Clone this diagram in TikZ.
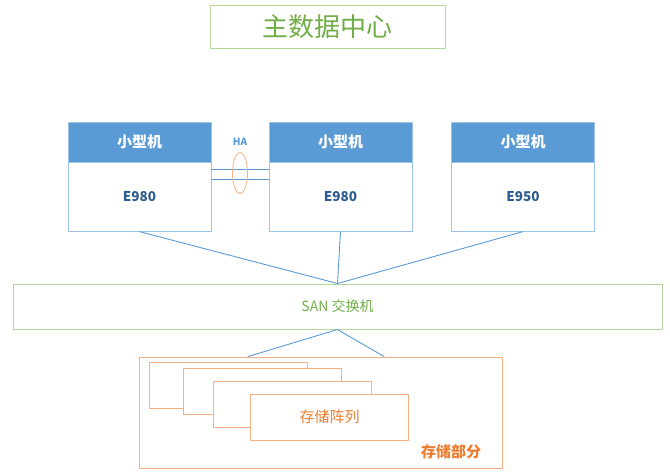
\documentclass[tikz,border=0pt]{standalone}
\usepackage{fontspec}
\setmainfont{Noto Sans CJK SC}
\usepackage{tikz}
\usetikzlibrary{calc,shapes.geometric}

\definecolor{hdrblue}{HTML}{5B9BD5}
\definecolor{bodyline}{HTML}{9DC3E6}
\definecolor{modeltext}{HTML}{2F5C8F}
\definecolor{grntext}{HTML}{70AD47}
\definecolor{grnline}{HTML}{B5D69B}
\definecolor{orgtext}{HTML}{ED7D31}
\definecolor{orgline}{HTML}{F4B183}

\tikzset{
    greenbox/.style={draw=grnline, line width=1pt, rectangle, text=grntext},
    hdrbox/.style={draw=bodyline, fill=hdrblue, text=white, minimum width=143pt, minimum height=40pt, inner sep=0pt, font=\fontsize{15}{17}\selectfont\bfseries},
    bodybox/.style={draw=bodyline, fill=white, text=modeltext, minimum width=143pt, minimum height=69pt, inner sep=0pt, font=\fontsize{13.5}{15}\selectfont\bfseries},
    arraybox/.style={draw=orgline, fill=white, line width=0.8pt, minimum width=158pt, minimum height=46pt, inner sep=0pt},
    link/.style={draw=hdrblue, line width=0.9pt}
}

\begin{document}
\begin{tikzpicture}[x=1pt, y=-1pt]
        \useasboundingbox (0,0) rectangle (670,475);

        % Title
        \node[greenbox, minimum width=235pt, minimum height=43pt, font=\fontsize{26}{30}\selectfont] (title) at (327.5,26.5) {主数据中心};

        % Three servers
        \node[hdrbox] (hdrA) at (139.5,142) {小型机};
        \node[bodybox, anchor=north] (bodyA) at (hdrA.south) {E980};
        \node[hdrbox] (hdrB) at (340.5,142) {小型机};
        \node[bodybox, anchor=north] (bodyB) at (hdrB.south) {E980};
        \node[hdrbox] (hdrC) at (523,142) {小型机};
        \node[bodybox, anchor=north] (bodyC) at (hdrC.south) {E950};

        % HA link between the two E980
        \draw[link] ([yshift=-7pt]bodyA.north east) -- ([yshift=-7pt]bodyB.north west);
        \draw[link] ([yshift=-17pt]bodyA.north east) -- ([yshift=-17pt]bodyB.north west);
        \node[ellipse, draw=orgline, line width=0.8pt, minimum width=15pt, minimum height=41pt, inner sep=0pt] (ha) at (240,173) {};
        \node[text=hdrblue, font=\fontsize{10}{11}\selectfont\bfseries] (halabel) at (240,142) {HA};

        % SAN switch
        \node[greenbox, minimum width=649pt, minimum height=45pt, font=\fontsize{14}{16}\selectfont] (san) at (337.5,306.5) {SAN 交换机};

        \draw[link] (bodyA.south) -- (san.north);
        \draw[link] (bodyB.south) -- (san.north);
        \draw[link] (bodyC.south) -- (san.north);

        % Storage part
        \node[draw=orgline, line width=0.8pt, minimum width=363pt, minimum height=111pt, inner sep=0pt] (store) at (320.5,412.5) {};
        \node[arraybox] (arr1) at (228,385) {};
        \node[arraybox] (arr2) at (262,391) {};
        \node[arraybox] (arr3) at (292,404) {};
        \node[arraybox, text=orgtext, font=\fontsize{15}{17}\selectfont] (arr4) at (329.5,417) {存储阵列};
        \node[text=orgtext, font=\fontsize{15}{17}\selectfont\bfseries] (storelabel) at (451,452) {存储部分};

        \coordinate (inL) at ($(store.north west)!0.3!(store.north east)$);
        \coordinate (inR) at ($(store.north west)!0.675!(store.north east)$);
        \draw[link] (san.south) -- (inL);
        \draw[link] (san.south) -- (inR);

    \end{tikzpicture}
\end{document}
